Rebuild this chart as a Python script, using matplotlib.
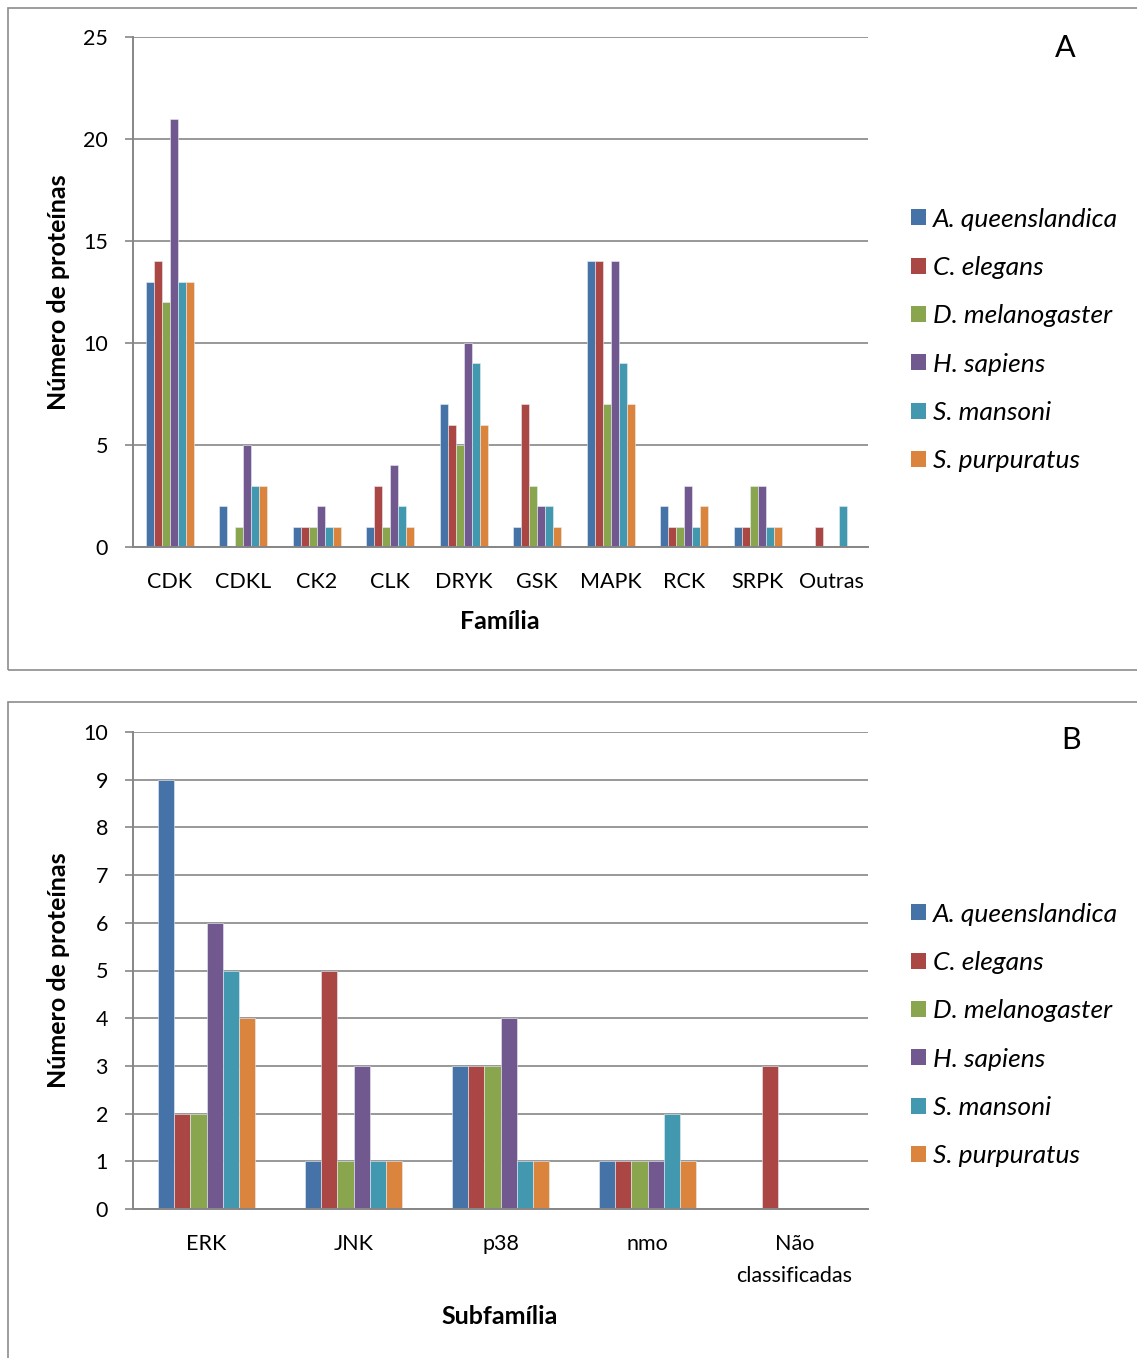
import matplotlib
matplotlib.use('Agg')
import matplotlib.pyplot as plt
from matplotlib.patches import Rectangle, Patch

plt.rcParams['font.family'] = ['Lato', 'DejaVu Sans']

W, H = 1137, 1358

species = ['A. queenslandica', 'C. elegans', 'D. melanogaster',
           'H. sapiens', 'S. mansoni', 'S. purpuratus']
colors = ['#4572A7', '#AA4643', '#89A54E', '#71588F', '#4198AF', '#DB843D']

# painel A - familias
familias = ['CDK', 'CDKL', 'CK2', 'CLK', 'DRYK', 'GSK', 'MAPK', 'RCK', 'SRPK', 'Outras']
aque_a = [13, 2, 1, 1, 7, 1, 14, 2, 1, 0]
cele_a = [14, 0, 1, 3, 6, 7, 14, 1, 1, 1]
dmel_a = [12, 1, 1, 1, 5, 3, 7, 1, 3, 0]
hsap_a = [21, 5, 2, 4, 10, 2, 14, 3, 3, 0]
sman_a = [13, 3, 1, 2, 9, 2, 9, 1, 1, 2]
spur_a = [13, 3, 1, 1, 6, 1, 7, 2, 1, 0]

# painel B - subfamilias MAPK
subfamilias = ['ERK', 'JNK', 'p38', 'nmo', 'Não\nclassificadas']
aque_b = [9, 1, 3, 1, 0]
cele_b = [2, 5, 3, 1, 3]
dmel_b = [2, 1, 3, 1, 0]
hsap_b = [6, 3, 4, 1, 0]
sman_b = [5, 1, 1, 2, 0]
spur_b = [4, 1, 1, 1, 0]

grid_c = '#868686'
fs = 15.5      # ticks
fs_lab = 18    # titulos dos eixos
fs_leg = 19    # legenda


def fx(px):
    return px / W


def fy(py):
    return 1 - py / H


def panel(rect, cats, series, ymax, ystep, xlabel, label_y, leg_y):
    ax = fig.add_axes(rect)
    n = len(cats)
    w = 0.109
    for i, vals in enumerate(series):
        xs = [k + (i - 2.5) * w for k in range(n)]
        ax.bar(xs, vals, width=w, color=colors[i], edgecolor='#e8eef6',
               linewidth=0.4, zorder=3)
    ax.set_xlim(-0.5, n - 0.5)
    ax.set_ylim(0, ymax)
    ax.set_yticks(range(0, ymax + 1, ystep))
    ax.set_xticks(range(n))
    ax.set_xticklabels(cats, fontsize=fs, linespacing=1.75)
    ax.tick_params(axis='x', length=0, pad=18)
    ax.tick_params(axis='y', length=6, width=1.2, color=grid_c, pad=12,
                   labelsize=fs)
    ax.yaxis.grid(True, color=grid_c, linewidth=1.2, zorder=0)
    for s in ['top', 'right']:
        ax.spines[s].set_visible(False)
    for s in ['left', 'bottom']:
        ax.spines[s].set_color(grid_c)
        ax.spines[s].set_linewidth(1.4)
    ax.spines['bottom'].set_zorder(4)
    fig.text(fx(500), fy(label_y), xlabel, fontsize=fs_lab, fontweight='bold',
             ha='center', va='center')
    handles = [Patch(facecolor=c, edgecolor='none') for c in colors]
    ax.legend(handles, species, loc='center left',
              bbox_to_anchor=(fx(911), fy(leg_y)),
              bbox_transform=fig.transFigure, frameon=False,
              borderpad=0, borderaxespad=0,
              handlelength=0.55, handleheight=0.55, handletextpad=0.27,
              labelspacing=0.96, prop={'size': fs_leg, 'style': 'italic'})
    return ax


fig = plt.figure(figsize=(W / 100, H / 100), dpi=100)

# molduras
fig.patches.append(Rectangle((fx(8), fy(670)), fx(1200), 662 / H,
                             transform=fig.transFigure, fill=False,
                             edgecolor='#8c8c8c', linewidth=1.2))
fig.patches.append(Rectangle((fx(8), fy(1400)), fx(1200), 698 / H,
                             transform=fig.transFigure, fill=False,
                             edgecolor='#8c8c8c', linewidth=1.2))

panel([fx(133), fy(547), 735 / W, 510 / H], familias,
      [aque_a, cele_a, dmel_a, hsap_a, sman_a, spur_a], 25, 5,
      'Família', 622, 340)
panel([fx(133), fy(1209), 735 / W, 477 / H], subfamilias,
      [aque_b, cele_b, dmel_b, hsap_b, sman_b, spur_b], 10, 1,
      'Subfamília', 1317, 1035)

fig.text(fx(58), fy(292), 'Número de proteínas', rotation=90, fontsize=fs_lab,
         fontweight='bold', ha='center', va='center')
fig.text(fx(58), fy(970), 'Número de proteínas', rotation=90, fontsize=fs_lab,
         fontweight='bold', ha='center', va='center')
fig.text(fx(1065), fy(48), 'A', fontsize=22, ha='center', va='center')
fig.text(fx(1071), fy(740), 'B', fontsize=22, ha='center', va='center')

fig.savefig('out.png', dpi=100)
